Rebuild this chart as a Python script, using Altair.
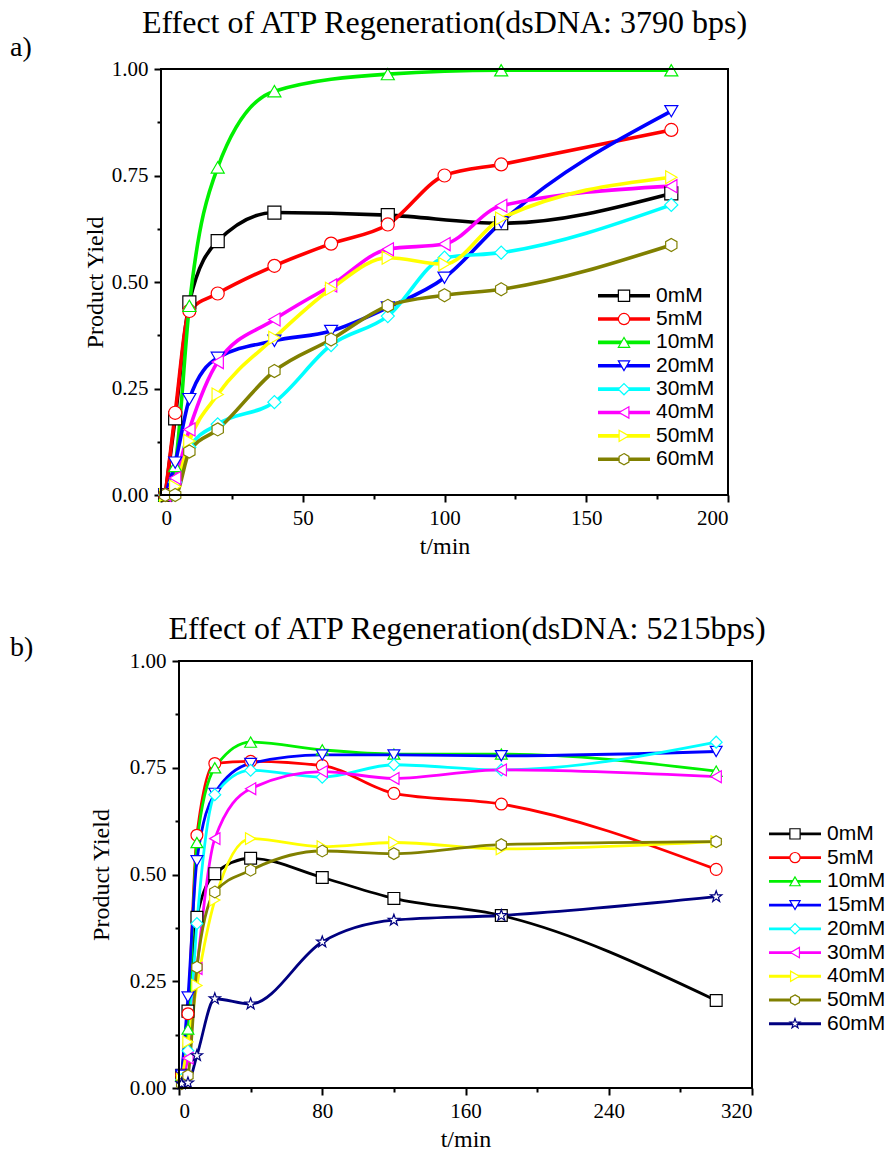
import altair as alt
import pandas as pd

# ---------------- Panel a data ----------------
A_TITLE = "Effect of ATP Regeneration(dsDNA: 3790 bps)"
A_SERIES = ["0mM", "5mM", "10mM", "20mM", "30mM", "40mM", "50mM", "60mM"]
A_TIMES = [1.5, 5, 10, 20, 40, 60, 80, 100, 120, 180]
A_0mM = [0, 0.18, 0.452, 0.596, 0.663, None, 0.657, None, 0.638, 0.708]
A_5mM = [0, 0.193, 0.432, 0.473, 0.538, 0.59, 0.635, 0.75, 0.776, 0.857]
A_10mM = [0, 0.068, 0.444, 0.769, 0.948, None, 0.988, None, 0.997, 0.997]
A_20mM = [0, 0.076, 0.225, 0.322, 0.362, 0.385, 0.44, 0.51, 0.64, 0.901]
A_30mM = [0, 0.03, 0.112, 0.166, 0.218, 0.352, 0.42, 0.557, 0.569, 0.681]
A_40mM = [0, 0.04, 0.154, 0.312, 0.412, 0.492, 0.577, 0.589, 0.679, 0.725]
A_50mM = [0, 0.02, 0.127, 0.236, 0.369, 0.484, 0.557, 0.542, 0.649, 0.746]
A_60mM = [0, 0, 0.102, 0.154, 0.291, 0.365, 0.444, 0.469, 0.483, 0.587]
A_VALUES = [A_0mM, A_5mM, A_10mM, A_20mM, A_30mM, A_40mM, A_50mM, A_60mM]
A_XTICKS = [0, 25, 50, 75, 100, 125, 150, 175, 200]

# ---------------- Panel b data ----------------
B_TITLE = "Effect of ATP Regeneration(dsDNA: 5215bps)"
B_SERIES = ["0mM", "5mM", "10mM", "15mM", "20mM", "30mM", "40mM", "50mM", "60mM"]
B_TIMES = [1.5, 5, 10, 20, 40, 80, 120, 180, 300]
B_0mM = [0.03, 0.18, 0.40, 0.502, 0.538, 0.493, 0.444, 0.404, 0.205]
B_5mM = [0.03, 0.174, 0.592, 0.76, 0.765, 0.755, 0.69, 0.665, 0.512]
B_10mM = [0.03, 0.138, 0.575, 0.75, 0.81, 0.792, 0.782, 0.782, 0.742]
B_15mM = [0.03, 0.213, 0.532, 0.69, 0.76, 0.78, 0.78, 0.778, 0.788]
B_20mM = [0.02, 0.087, 0.385, 0.687, 0.744, 0.728, 0.757, 0.745, 0.81]
B_30mM = [0.02, 0.07, 0.28, 0.584, 0.701, 0.741, 0.725, 0.745, 0.729]
B_40mM = [0.02, 0.108, 0.24, 0.44, 0.584, 0.565, 0.575, 0.56, 0.577]
B_50mM = [0.01, 0.029, 0.283, 0.459, 0.51, 0.555, 0.549, 0.57, 0.577]
B_60mM = [0.01, 0.012, 0.076, 0.209, 0.197, 0.342, 0.393, 0.404, 0.448]
B_VALUES = [B_0mM, B_5mM, B_10mM, B_15mM, B_20mM, B_30mM, B_40mM, B_50mM, B_60mM]
B_XTICKS = [0, 40, 80, 120, 160, 200, 240, 280, 320]

Y_TICKS = [0, 0.125, 0.25, 0.375, 0.5, 0.625, 0.75, 0.875, 1.0]

HEX = "M0,-1 L0.866,-0.5 L0.866,0.5 L0,1 L-0.866,0.5 L-0.866,-0.5 Z"
STAR = ("M0,-1 L0.235,-0.324 L0.951,-0.309 L0.380,0.124 L0.588,0.809 L0,0.4 "
        "L-0.588,0.809 L-0.380,0.124 L-0.951,-0.309 L-0.235,-0.324 Z")

A_COLORS = ["#000000", "#ff0000", "#00f000", "#0000ff", "#00ffff", "#ff00ff", "#ffff00", "#808000"]
A_SHAPES = ["square", "circle", "triangle-up", "triangle-down", "diamond",
            "triangle-left", "triangle-right", HEX]
B_COLORS = ["#000000", "#ff0000", "#00f000", "#0000ff", "#00ffff", "#ff00ff", "#ffff00", "#808000", "#000080"]
B_SHAPES = ["square", "circle", "triangle-up", "triangle-down", "diamond",
            "triangle-left", "triangle-right", HEX, STAR]

SERIF = "Liberation Serif"
SANS = "Liberation Sans"


def long_df(series, times, values):
    rows = []
    for s, vals in zip(series, values):
        for t, v in zip(times, vals):
            if v is not None:
                rows.append({"series": s, "t": t, "v": v})
    return pd.DataFrame(rows)


def panel(title, label, series, times, values, colors, shapes, xmax, xticks, xmajor,
          width, xoff, height, line_w, msize, leg_x, leg_y0, leg_step,
          title_x, title_y, label_y, ytitle_pad):
    df = long_df(series, times, values)
    xs = alt.Scale(domain=[0, xmax], range=[xoff, width], nice=False, zero=False)
    ys = alt.Scale(domain=[0, 1], nice=False)
    cs = alt.Scale(domain=series, range=colors)
    ss = alt.Scale(domain=series, range=shapes)

    xaxis = alt.Axis(
        values=xticks, title="t/min", grid=False, domain=False,
        labelExpr=f"datum.value % {xmajor} === 0 ? format(datum.value, 'd') : ''",
        tickSize={"condition": {"test": f"datum.value % {xmajor} !== 0", "value": 4}, "value": 7},
        labelPadding=5, titlePadding=6,
    )
    yaxis = alt.Axis(
        values=Y_TICKS, title="Product Yield", grid=False, domain=False, offset=-xoff,
        labelExpr="datum.value % 0.25 === 0 ? format(datum.value, '.2f') : ''",
        tickSize={"condition": {"test": "datum.value % 0.25 !== 0", "value": 4}, "value": 7},
        labelPadding=6, titlePadding=ytitle_pad,
    )

    base = alt.Chart(df)
    lines = base.mark_line(interpolate="monotone", strokeWidth=line_w).encode(
        x=alt.X("t:Q", scale=xs, axis=xaxis),
        y=alt.Y("v:Q", scale=ys, axis=yaxis),
        color=alt.Color("series:N", scale=cs, legend=None),
        detail="series:N",
    )
    pts = base.mark_point(fill="white", fillOpacity=1, opacity=1, strokeWidth=1.2, size=msize).encode(
        x=alt.X("t:Q", scale=xs),
        y=alt.Y("v:Q", scale=ys),
        stroke=alt.Stroke("series:N", scale=cs, legend=None),
        shape=alt.Shape("series:N", scale=ss, legend=None),
    )
    one = pd.DataFrame({"k": [0]})
    frame = alt.Chart(one).mark_rect(filled=False, stroke="black", strokeWidth=2).encode(
        x=alt.datum(0), x2=alt.datum(xmax), y=alt.datum(0), y2=alt.datum(1)
    )
    lab = alt.Chart(one).mark_text(text=label, font=SERIF, fontSize=28, align="left",
                                   baseline="alphabetic", color="black").encode(
        x=alt.value(-151), y=alt.value(label_y)
    )
    ttl = alt.Chart(one).mark_text(text=title, font=SERIF, fontSize=32, align="center",
                                   baseline="alphabetic", color="black").encode(
        x=alt.value(title_x), y=alt.value(title_y)
    )
    main = alt.layer(lines, pts, frame, lab, ttl)

    legdf = pd.DataFrame({"series": series})
    lys = alt.Scale(domain=series, range=[leg_y0, leg_y0 + leg_step * (len(series) - 1)], padding=0)
    lb = alt.Chart(legdf)
    lrule = lb.mark_rule(strokeWidth=line_w).encode(
        x=alt.value(leg_x), x2=alt.value(leg_x + 52),
        y=alt.Y("series:N", scale=lys, axis=None),
        color=alt.Color("series:N", scale=cs, legend=None),
    )
    lpt = lb.mark_point(fill="white", fillOpacity=1, opacity=1, strokeWidth=1.2, size=msize * 0.75).encode(
        x=alt.value(leg_x + 26),
        y=alt.Y("series:N", scale=lys, axis=None),
        stroke=alt.Stroke("series:N", scale=cs, legend=None),
        shape=alt.Shape("series:N", scale=ss, legend=None),
    )
    ltxt = lb.mark_text(font=SANS, fontSize=21, align="left", baseline="middle", color="black").encode(
        x=alt.value(leg_x + 58),
        y=alt.Y("series:N", scale=lys, axis=None),
        text="series:N",
    )
    legend = alt.layer(lrule, lpt, ltxt)

    return alt.layer(main, legend).resolve_scale(y="independent").properties(
        width=width, height=height,
    )


pa = panel(A_TITLE, "a)", A_SERIES, A_TIMES, A_VALUES, A_COLORS, A_SHAPES, 200, A_XTICKS, 50,
           567, 0, 426, 3.6, 170, 437, 215, 26.7, 283.5, -36, -13, 4)
pb = panel(B_TITLE, "b)", B_SERIES, B_TIMES, B_VALUES, B_COLORS, B_SHAPES, 320, B_XTICKS, 80,
           591, 18, 427, 2.8, 140, 608, 161, 26.7, 306, -22, -5, 16)

chart = alt.vconcat(pa, pb, spacing=55).resolve_scale(
    color="independent", stroke="independent", shape="independent"
).properties(
    padding={"left": 10, "top": 7, "right": 0, "bottom": 0}, background="white"
).configure_view(stroke=None).configure_axis(
    labelFont=SERIF, labelFontSize=21, labelColor="black",
    titleFont=SERIF, titleFontSize=24, titleFontWeight="normal", titleColor="black",
    tickColor="black", tickWidth=2,
)

chart.save("out.html", embed_options={"renderer": "svg", "actions": False})
